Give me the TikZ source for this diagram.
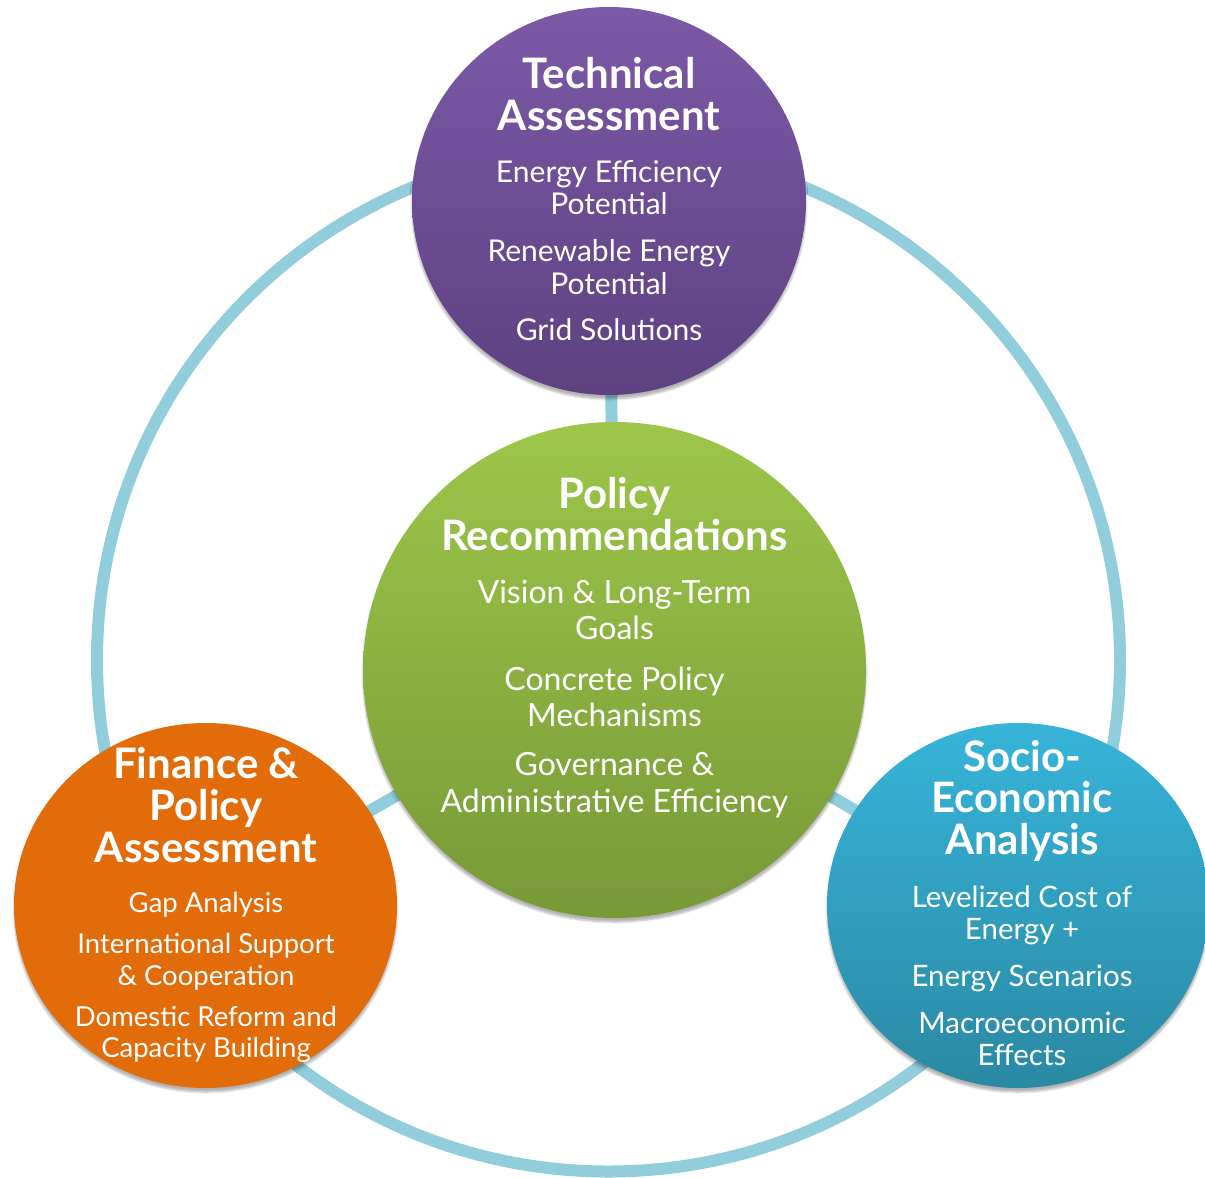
\documentclass[tikz,border=0pt]{standalone}
\usepackage{fontspec}
\setmainfont{Lato}
\usetikzlibrary{shapes.geometric,backgrounds,shadows.blur}

\definecolor{ringblue}{HTML}{92CDDC}
\definecolor{purpletop}{HTML}{7C59A7}
\definecolor{purplebot}{HTML}{5D4180}
\definecolor{greentop}{HTML}{9DC64A}
\definecolor{greenbot}{HTML}{789937}
\definecolor{orangefill}{HTML}{E36C0A}
\definecolor{bluetop}{HTML}{37B4D9}
\definecolor{bluebot}{HTML}{2A89A3}

\begin{document}
\begin{tikzpicture}[x=1pt,y=-1pt,
  bubble/.style={ellipse, inner sep=0pt, draw=none,
    blur shadow={shadow xshift=0pt, shadow yshift=-4pt,
      shadow blur steps=6, shadow opacity=30}},
  head/.style={anchor=base, text=white, font=\fontsize{42}{42}\selectfont\bfseries},
  techitem/.style={anchor=base, text=white, font=\fontsize{30}{30}\selectfont},
  polyitem/.style={anchor=base, text=white, font=\fontsize{32}{32}\selectfont},
  finitem/.style={anchor=base, text=white, font=\fontsize{27.5}{27.5}\selectfont},
  socitem/.style={anchor=base, text=white, font=\fontsize{29.5}{29.5}\selectfont},
  spoke/.style={draw=ringblue, line width=12pt}]

\useasboundingbox (0,0) rectangle (1205,1178);

% the four bubbles
\node[bubble, minimum width=394pt, minimum height=388pt,
      top color=purpletop, bottom color=purplebot] (tech) at (609,201) {};
\node[bubble, minimum width=503pt, minimum height=496pt,
      top color=greentop, bottom color=greenbot] (policy) at (614.5,670) {};
\node[bubble, minimum width=383pt, minimum height=365pt,
      fill=orangefill] (finance) at (205.5,905.5) {};
\node[bubble, minimum width=382pt, minimum height=365pt,
      top color=bluetop, bottom color=bluebot] (socio) at (1018,905.5) {};

% ring and spokes behind the bubbles
\begin{pgfonlayer}{background}
  \node[circle, draw=ringblue, line width=12pt, inner sep=0pt,
        minimum size=1023pt] (ring) at (608.5,660) {};
  \draw[spoke] (policy.center) -- (tech.center);
  \draw[spoke] (policy.center) -- (finance.center);
  \draw[spoke] (policy.center) -- (socio.center);
\end{pgfonlayer}

% Technical Assessment
\node[head] (t1) at (609,88) {Technical};
\node[head] (t2) at (609,130) {Assessment};
\node[techitem] (t3) at (609,182) {Energy Efficiency};
\node[techitem] (t4) at (609,214) {Potential};
\node[techitem] (t5) at (609,261) {Renewable Energy};
\node[techitem] (t6) at (609,294) {Potential};
\node[techitem] (t7) at (609,340) {Grid Solutions};

% Policy Recommendations
\node[head] (p1) at (614.5,508) {Policy};
\node[head] (p2) at (614.5,550) {Recommendations};
\node[polyitem] (p3) at (614.5,603) {Vision \& Long-Term};
\node[polyitem] (p4) at (614.5,639) {Goals};
\node[polyitem] (p5) at (614.5,690) {Concrete Policy};
\node[polyitem] (p6) at (614.5,726) {Mechanisms};
\node[polyitem] (p7) at (614.5,775) {Governance \&};
\node[polyitem] (p8) at (614.5,812) {Administrative Efficiency};

% Finance & Policy Assessment
\node[head] (f1) at (206,778) {Finance \&};
\node[head] (f2) at (206,820) {Policy};
\node[head] (f3) at (206,862) {Assessment};
\node[finitem] (f4) at (206,912) {Gap Analysis};
\node[finitem] (f5) at (206,953) {International Support};
\node[finitem] (f6) at (206,985) {\& Cooperation};
\node[finitem] (f7) at (206,1026) {Domestic Reform and};
\node[finitem] (f8) at (206,1057) {Capacity Building};

% Socio-Economic Analysis
\node[head] (s1) at (1022,771) {Socio-};
\node[head] (s2) at (1022,812) {Economic};
\node[head] (s3) at (1022,854) {Analysis};
\node[socitem] (s4) at (1022,907) {Levelized Cost of};
\node[socitem] (s5) at (1022,939) {Energy +};
\node[socitem] (s6) at (1022,986) {Energy Scenarios};
\node[socitem] (s7) at (1022,1033) {Macroeconomic};
\node[socitem] (s8) at (1022,1065) {Effects};
\end{tikzpicture}
\end{document}
